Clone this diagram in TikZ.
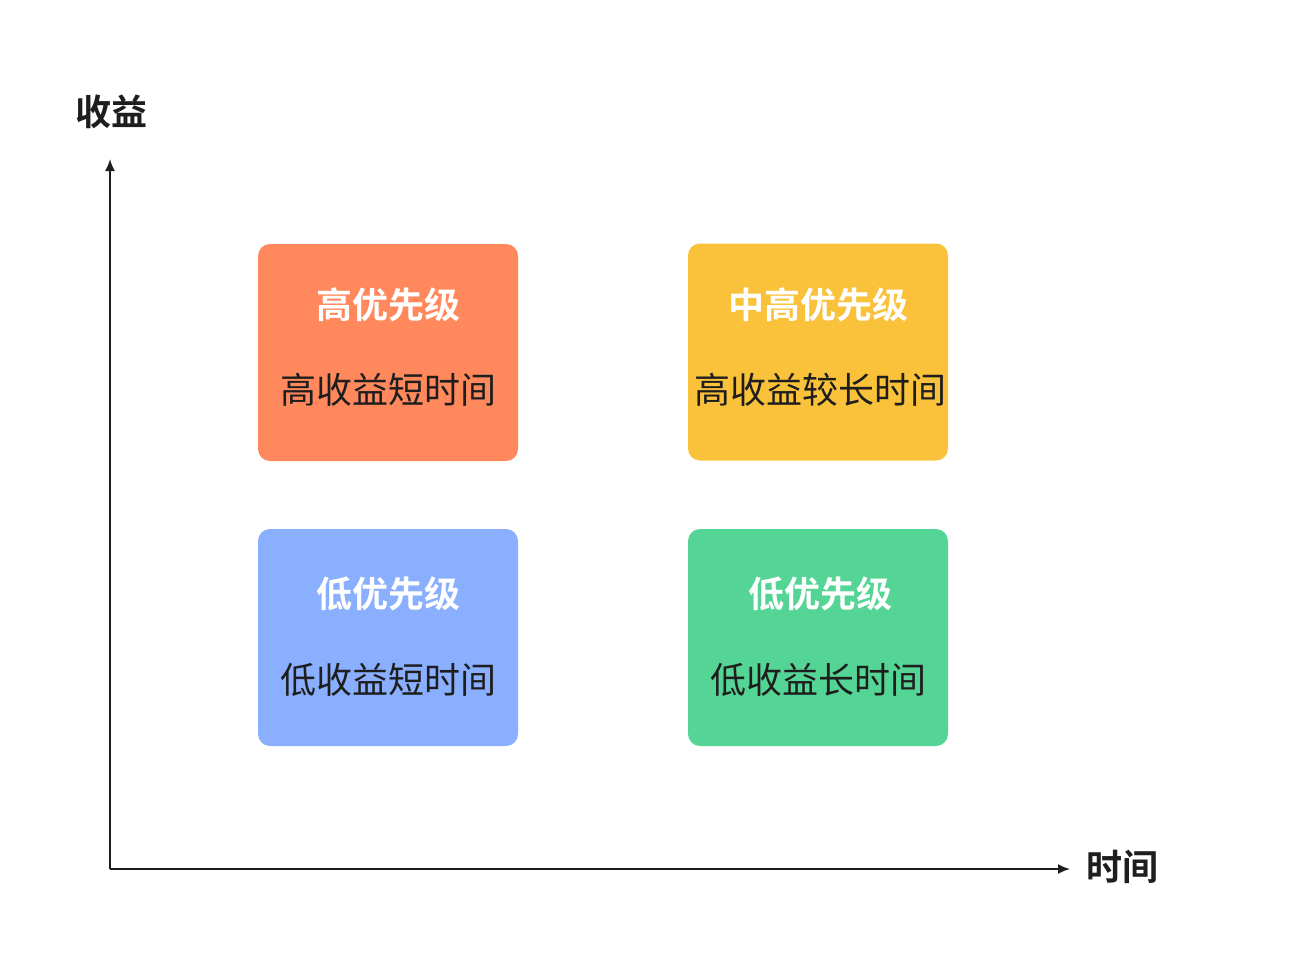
\documentclass[tikz,border=0pt]{standalone}
\usepackage{fontspec}
\newfontfamily\cjk{Noto Sans CJK SC}
\newfontfamily\cjkb{Noto Sans CJK SC Bold}
\usetikzlibrary{arrows.meta}
\definecolor{corange}{HTML}{FF885D}
\definecolor{cyellow}{HTML}{FAC23A}
\definecolor{cblue}{HTML}{8AAFFF}
\definecolor{cgreen}{HTML}{55D595}
\definecolor{ink}{HTML}{1E1E1E}
\tikzset{
  quad/.style={draw=none, fill=#1, rounded corners=12pt, minimum width=260pt, minimum height=217pt, inner sep=0pt},
  ttl/.style={font=\cjkb\fontsize{36}{40}\selectfont, text=white, inner sep=0pt, text height=0.88em, text depth=0.12em},
  sub/.style={font=\cjk\fontsize{36}{40}\selectfont, text=ink, inner sep=0pt, text height=0.88em, text depth=0.12em},
  axlab/.style={font=\cjkb\fontsize{36}{40}\selectfont, text=ink, inner sep=0pt, text height=0.88em, text depth=0.12em},
  axis/.style={draw=ink, line width=1.8pt, -{Latex[length=12pt,width=10pt]}}
}
\begin{document}
\begin{tikzpicture}[x=1pt,y=-1pt]
\useasboundingbox (0,0) rectangle (1289,964);
\fill[white] (0,0) rectangle (1289,964);
\node[quad=corange] (q1) at (388,352.5) {};
\node[quad=cyellow] (q2) at (818,352) {};
\node[quad=cblue] (q3) at (388,637.5) {};
\node[quad=cgreen] (q4) at (818,637.5) {};
\node[ttl] (t1) at (388,315) {高优先级};
\node[sub] (s1) at (388,400) {高收益短时间};
\node[ttl] (t2) at (818,315) {中高优先级};
\node[sub] (s2) at (820,400) {高收益较长时间};
\node[ttl] (t3) at (388,604) {低优先级};
\node[sub] (s3) at (388,690) {低收益短时间};
\node[ttl] (t4) at (820,604) {低优先级};
\node[sub] (s4) at (818,690) {低收益长时间};
\coordinate (o) at (110,869);
\coordinate (ytop) at (110,159);
\coordinate (xend) at (1070,869);
\draw[axis] (o) -- (ytop);
\draw[axis] (o) -- (xend);
\node[axlab] (ylab) at (111,122) {收益};
\node[axlab] (xlab) at (1122,877) {时间};
\end{tikzpicture}
\end{document}
